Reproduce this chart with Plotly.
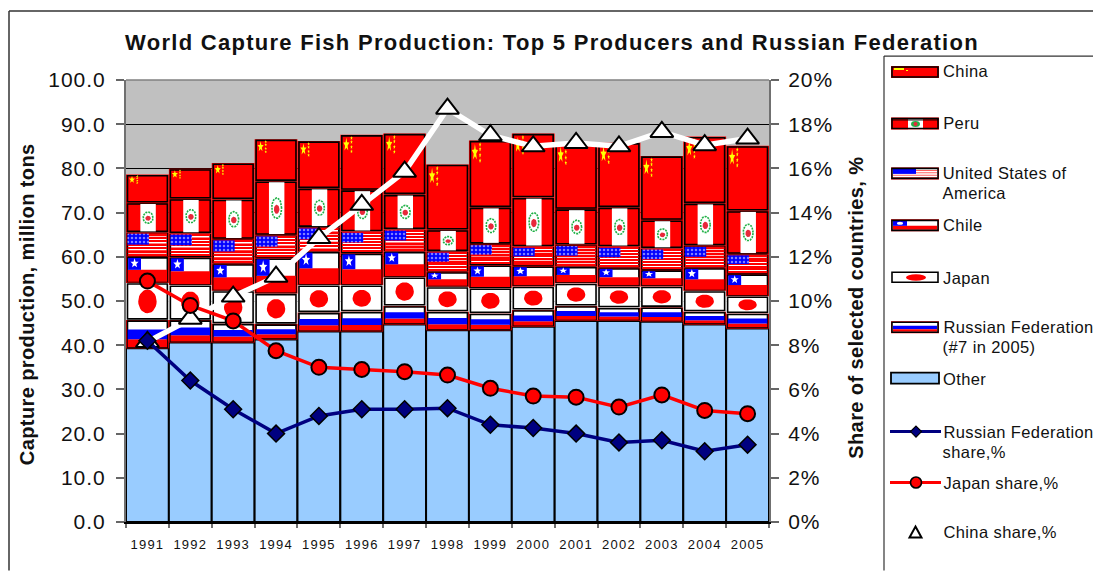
import math
import plotly.graph_objects as go

# ---------- data ----------
years = list(range(1991, 2006))
other = [39.3, 40.6, 40.6, 41.3, 43.1, 43.1, 44.7, 43.4, 43.4, 44.2, 45.5, 45.5, 45.3, 44.7, 43.8]
russia = [6.4, 5.1, 4.3, 3.5, 4.3, 4.5, 4.2, 4.2, 3.8, 3.8, 3.4, 3.0, 3.3, 2.9, 3.4]
japan = [8.4, 7.9, 7.4, 6.9, 6.2, 6.0, 6.5, 5.6, 5.7, 5.3, 5.1, 4.8, 4.7, 4.7, 3.9]
chile = [5.9, 6.3, 6.1, 8.0, 7.6, 7.2, 5.8, 3.4, 5.2, 4.6, 3.8, 4.2, 3.7, 5.2, 5.0]
usa = [5.5, 5.4, 5.6, 5.2, 5.5, 4.9, 5.0, 4.6, 4.8, 4.4, 4.9, 4.8, 4.9, 5.0, 4.5]
peru = [6.7, 7.8, 9.0, 12.2, 8.8, 9.4, 7.9, 4.9, 8.3, 11.1, 8.1, 8.9, 6.4, 9.6, 9.8]
china = [6.4, 6.8, 8.2, 9.5, 10.7, 12.5, 13.8, 14.8, 15.1, 14.5, 14.9, 14.6, 14.5, 15.1, 14.7]
russia_share = [8.2, 6.4, 5.1, 4.0, 4.8, 5.1, 5.1, 5.15, 4.4, 4.25, 4.0, 3.6, 3.7, 3.2, 3.5]
japan_share = [10.9, 9.8, 9.1, 7.75, 7.0, 6.9, 6.8, 6.65, 6.05, 5.7, 5.65, 5.2, 5.75, 5.05, 4.9]
china_share = [8.15, 9.2, 10.2, 11.1, 12.85, 14.35, 15.85, 18.7, 17.5, 17.0, 17.15, 17.0, 17.65, 17.05, 17.35]
title_text = "World Capture Fish Production: Top 5 Producers and Russian Federation"
left_title = "Capture production, million tons"
right_title = "Share of selected countries, %"

FONT = "Liberation Sans, Arial, sans-serif"
RED, BLUE, SKY, NAVY = "#FF0000", "#0000FF", "#99CCFF", "#000080"
L, R, T, B = 126, 769, 80, 522.5
W_BAR, PAD = 0.93, 0.25

# ---------- stacking ----------
order = [("Other", other), ("Russia", russia), ("Japan", japan), ("Chile", chile),
         ("USA", usa), ("Peru", peru), ("China", china)]
bases, running = {}, [0.0] * len(years)
for name, vals in order:
    bases[name] = list(running)
    running = [a + b for a, b in zip(running, vals)]
heights = dict(order)


def part(name, f0, f1):
    """vertical span of a fraction (from the bottom) of a stacked segment."""
    b, h = bases[name], heights[name]
    return ([bb + PAD + (hh - 2 * PAD) * f0 for bb, hh in zip(b, h)],
            [(hh - 2 * PAD) * (f1 - f0) for hh in h])


fig = go.Figure()


def bars(name, f0, f1, color, width=W_BAR - 0.01, dx=0.0, line=0, pattern=None):
    base, ys = part(name, f0, f1)
    marker = dict(color=color, line=dict(color="#000000", width=line))
    if pattern:
        marker["pattern"] = pattern
    fig.add_trace(go.Bar(x=[yr + dx for yr in years], y=ys, base=base, width=width, marker=marker,
                         name=name, showlegend=False, hoverinfo="skip"))


# Other: full-width blue bars
fig.add_trace(go.Bar(x=years, y=other, base=bases["Other"], width=1.0, name="Other", showlegend=False,
                     marker=dict(color=SKY, line=dict(color="#000000", width=2))))

# backing colour visible in the small gaps round each flag
for nm, col in [("Russia", RED), ("Japan", "#FFFFFF"), ("Chile", RED), ("USA", RED), ("Peru", RED), ("China", RED)]:
    fig.add_trace(go.Bar(x=years, y=heights[nm], base=bases[nm], width=1.0, name=nm, showlegend=False,
                         marker=dict(color=col, line=dict(width=0))))

# main flag bars with black frame
for nm, col in [("Russia", "#FFFFFF"), ("Japan", "#FFFFFF"), ("Chile", "#FFFFFF"),
                ("USA", "#FFFFFF"), ("Peru", RED), ("China", RED)]:
    bars(nm, 0, 1, col, width=W_BAR, line=1.6)

# Russia stripes
bars("Russia", 0.0, 0.3, RED)
bars("Russia", 0.3, 0.68, BLUE)
# Chile
bars("Chile", 0.0, 0.5, RED)
bars("Chile", 0.5, 1.0, BLUE, width=0.30, dx=-0.30)
# Peru
bars("Peru", 0.0, 1.0, "#FFFFFF", width=0.36, dx=0.015)
# USA stripes & canton
for k in range(7):
    f = k * 2 / 13
    bars("USA", f + 0.012, f + 1 / 13 + 0.012, RED)
bars("USA", 0.5, 0.995, BLUE, width=0.5, dx=-0.215,
     pattern=dict(shape=".", fgcolor="#FFFFFF", bgcolor=BLUE, size=4, solidity=0.3))


# ---------- flag emblems, stretched with the bars ----------
def ellipse(cx, cy, rx, ry, n=28):
    a = [2 * math.pi * k / n for k in range(n + 1)]
    return [cx + rx * math.cos(t) for t in a] + [None], [cy + ry * math.sin(t) for t in a] + [None]


def star(cx, cy, rx, ry):
    a = [math.pi / 2 + k * math.pi / 5 for k in range(11)]
    rr = [1 if k % 2 == 0 else 0.42 for k in range(11)]
    return ([cx + r * rx * math.cos(t) for r, t in zip(rr, a)] + [None],
            [cy + r * ry * math.sin(t) for r, t in zip(rr, a)] + [None])


def poly(items, color, fill=True, width=0, dash=None):
    xs, ys = [], []
    for px_, py_ in items:
        xs += px_
        ys += py_
    if fill:
        fig.add_trace(go.Scatter(x=xs, y=ys, mode="lines", fill="toself", fillcolor=color, line=dict(width=0, color=color),
                                 showlegend=False, hoverinfo="skip"))
    else:
        fig.add_trace(go.Scatter(x=xs, y=ys, mode="lines", line=dict(width=width, color=color, dash=dash),
                                 showlegend=False, hoverinfo="skip"))


def at(name, i, f):
    return bases[name][i] + heights[name][i] * f


poly([ellipse(y, at("Japan", i, 0.5), 0.215, japan[i] * 0.32) for i, y in enumerate(years)], RED)
poly([star(y - 0.30, at("Chile", i, 0.75), 0.10, chile[i] * 0.19) for i, y in enumerate(years)], "#FFFFFF")
big = [star(y - 0.36, at("China", i, 0.82), 0.075, china[i] * 0.13) for i, y in enumerate(years)]
small = [star(y - 0.24, at("China", i, f), 0.03, china[i] * 0.04)
         for i, y in enumerate(years) for f in (0.94, 0.87, 0.78, 0.70)]
poly(big + small, "#FFFF00")
poly([ellipse(y + 0.015, at("Peru", i, 0.5), 0.115, peru[i] * 0.19) for i, y in enumerate(years)], "#1FB045",
     fill=False, width=1.6, dash="2px,1px")
poly([ellipse(y + 0.015, at("Peru", i, 0.48), 0.065, peru[i] * 0.085) for i, y in enumerate(years)], "#E8283A")

# ---------- share lines ----------
fig.add_trace(go.Scatter(x=years, y=china_share, xaxis="x2", yaxis="y2", mode="lines+markers", name="China share,%",
                         showlegend=False, line=dict(color="#FFFFFF", width=5.5),
                         marker=dict(symbol="triangle-up", size=20, color="#FFFFFF", line=dict(color="#000000", width=2))))
fig.add_trace(go.Scatter(x=years, y=japan_share, xaxis="x2", yaxis="y2", mode="lines+markers", name="Japan share,%",
                         showlegend=False, line=dict(color=RED, width=3.5),
                         marker=dict(symbol="circle", size=15, color=RED, line=dict(color="#000000", width=2))))
fig.add_trace(go.Scatter(x=years, y=russia_share, xaxis="x2", yaxis="y2", mode="lines+markers", name="Russian Federation share,%",
                         showlegend=False, line=dict(color=NAVY, width=3.5),
                         marker=dict(symbol="diamond", size=13, color=NAVY, line=dict(color="#000000", width=1.5))))


# ---------- page-level geometry helpers ----------
def px(x):
    return (x - L) / (R - L)


def py(y):
    return (B - y) / (B - T)


shapes, notes = [], []


def rect(x0, y0, x1, y1, fill, line=None, w=0):
    shapes.append(dict(type="rect", xref="paper", yref="paper", x0=px(x0), x1=px(x1), y0=py(y0), y1=py(y1),
                       fillcolor=fill, line=dict(color=line or fill, width=w)))


def seg(x0, y0, x1, y1, color, w):
    shapes.append(dict(type="line", xref="paper", yref="paper", x0=px(x0), x1=px(x1), y0=py(y0), y1=py(y1),
                       line=dict(color=color, width=w)))


def path(points, fill, line, w):
    d = "M" + " L".join(f"{px(a):.5f},{py(b):.5f}" for a, b in points) + " Z"
    shapes.append(dict(type="path", xref="paper", yref="paper", path=d, fillcolor=fill, line=dict(color=line, width=w)))


def oval(x0, y0, x1, y1, fill, line=None, w=0):
    shapes.append(dict(type="circle", xref="paper", yref="paper", x0=px(x0), x1=px(x1), y0=py(y0), y1=py(y1),
                       fillcolor=fill, line=dict(color=line or fill, width=w)))


def text(x, y, s, size, bold=False, anchor="left", angle=0):
    notes.append(dict(xref="paper", yref="paper", x=px(x), y=py(y), text=s, showarrow=False, textangle=angle,
                      xanchor=anchor, yanchor="middle",
                      font=dict(family=FONT, size=size, color="#111111", weight=700 if bold else 400)))


# frames
seg(9, 11, 1093, 11, "#333333", 1.5)
seg(9, 11, 9, 571, "#333333", 1.5)
seg(884, 56, 1093, 56, "#333333", 1.2)
seg(884, 56, 884, 571, "#333333", 1.2)

# legend swatches
X0, X1 = 892, 938


def frame(y, fill, back=RED):
    rect(X0 - 1, y - 1, X1 + 1, y + 11, back)
    rect(X0, y, X1, y + 10, fill)


def outline(y):
    rect(X0, y, X1, y + 10, "rgba(0,0,0,0)", "#000000", 1.6)


frame(67, RED)
rect(X0 + 2, 68, X0 + 12, 70, "#FFFF00")
rect(X0 + 14, 70, X0 + 16, 71, "#FFFF00")
outline(67)
frame(118.5, RED)
rect(X0 + 16, 118, X0 + 31, 129.5, "#FFFFFF")
oval(X0 + 19, 121, X0 + 28, 127, "#1FB045")
oval(X0 + 21.5, 122, X0 + 25.5, 126, "#E8283A")
rect(X0 + 0, 118.5, X0 + 46, 120, "rgba(0,0,0,0)", "#000000", 1)
outline(118.5)
frame(168.5, "#FFFFFF")
for k in range(4):
    rect(X0 + 1, 170 + k * 2.4, X1 - 1, 171 + k * 2.4, "#FF6060")
rect(X0 + 1, 169, X0 + 24, 174, BLUE)
outline(168.5)
frame(220.5, "#FFFFFF")
rect(X0 + 1, 226, X1 - 1, 230, RED)
rect(X0 + 1, 221, X0 + 15, 226, BLUE)
oval(X0 + 5, 222, X0 + 11, 225, "#FFFFFF")
outline(220.5)
frame(272.5, "#FFFFFF", "#FFFFFF")
oval(X0 + 14, 274.5, X0 + 34, 281, RED)
outline(272.5)
frame(322.5, "#FFFFFF")
rect(X0 + 1, 326, X1 - 1, 329.5, BLUE)
rect(X0 + 1, 329.5, X1 - 1, 332, RED)
outline(322.5)
rect(X0 - 1, 373, X1 + 1, 384, SKY, "#000000", 1.8)
# line entries
seg(890, 432, 941, 432, NAVY, 3)
path([(916, 426.5), (921.5, 432), (916, 437.5), (910.5, 432)], NAVY, "#000000", 1.2)
seg(890, 483, 941, 483, RED, 3)
oval(910.5, 477.5, 921.5, 488.5, RED, "#000000", 1.6)
path([(915.5, 527), (921.5, 538), (909.5, 538)], "#FFFFFF", "#000000", 2)

# legend labels (letter spacing spreads middle-anchored text both ways: compensate)
for (y, s) in [(71, "China"), (123, "Peru"), (173, "United States of"), (193, "America"), (225, "Chile"),
               (278, "Japan"), (327, "Russian Federation"), (347, "(#7 in 2005)"), (379, "Other"),
               (432, "Russian Federation"), (452, "share,%"), (483, "Japan share,%"), (533, "China share,%")]:
    text(941 + 0.2 * len(s), y, s, 16.5)

# axis titles
text(27, 305, left_title, 20, bold=True, anchor="center", angle=-90)
text(856, 308, right_title, 20, bold=True, anchor="center", angle=-90)

XR = [1990.5, 2005.5]
boundaries = [y - 0.5 for y in years] + [2005.5]
fig.update_layout(
    width=1093, height=571, margin=dict(l=L, r=1093 - R, t=T, b=571 - B, pad=0),
    paper_bgcolor="#FFFFFF", plot_bgcolor="#C0C0C0", barmode="overlay", showlegend=False,
    font=dict(family=FONT, color="#111111"),
    title=dict(text=title_text, x=px(552), xref="paper", xanchor="center", y=1 - 42 / 571, yref="container",
               yanchor="middle", font=dict(family=FONT, size=22, color="#111111", weight=700)),
    xaxis=dict(range=XR, tickmode="array", tickvals=boundaries, ticktext=[""] * len(boundaries), ticks="outside",
               ticklen=4, tickcolor="#707070", tickwidth=1.5, showgrid=False, zeroline=False, showline=True,
               linecolor="#000000", linewidth=2, mirror=False),
    yaxis=dict(range=[0, 100], tickmode="array", tickvals=list(range(0, 101, 10)),
               ticktext=[f"{v:.1f}" for v in range(0, 101, 10)], ticks="outside", ticklen=8, tickcolor="#666666",
               tickwidth=1.5, showgrid=True, gridcolor="#000000", gridwidth=1, zeroline=False, showline=True,
               linecolor="#707070", linewidth=2, ticklabelstandoff=6,
               tickfont=dict(size=21, family=FONT, color="#111111"), layer="below traces"),
    xaxis2=dict(range=XR, overlaying="x", anchor="y2", side="bottom", tickmode="array", tickvals=years,
                ticktext=[str(y) for y in years], ticks="", showgrid=False, zeroline=False, showline=False,
                ticklabelstandoff=13, tickfont=dict(size=13, family=FONT, color="#111111")),
    yaxis2=dict(range=[0, 20], overlaying="y", anchor="x2", side="right", tickmode="array",
                tickvals=list(range(0, 21, 2)), ticktext=[f"{v}%" for v in range(0, 21, 2)], ticks="outside",
                ticklen=8, tickcolor="#666666", tickwidth=1.5, showgrid=False, zeroline=False, showline=True,
                linecolor="#707070", linewidth=2, ticklabelstandoff=5,
                tickfont=dict(size=21, family=FONT, color="#111111")),
    shapes=shapes + [dict(type="line", xref="paper", yref="paper", x0=0, x1=1, y0=1, y1=1,
                          line=dict(color="#808080", width=1.5))],
    annotations=notes,
)

post = """
document.body.style.margin='0';document.documentElement.style.overflow='hidden';
var sp=function(sel,v){document.querySelectorAll(sel).forEach(function(e){e.style.letterSpacing=v;});};
sp('.gtitle','1.28px');sp('.annotation-text','0.4px');sp('.ytick text','1px');sp('.y2tick text','1px');sp('.x2tick text','1.2px');
"""
fig.write_html("out.html", post_script=post, config={"displayModeBar": False})
